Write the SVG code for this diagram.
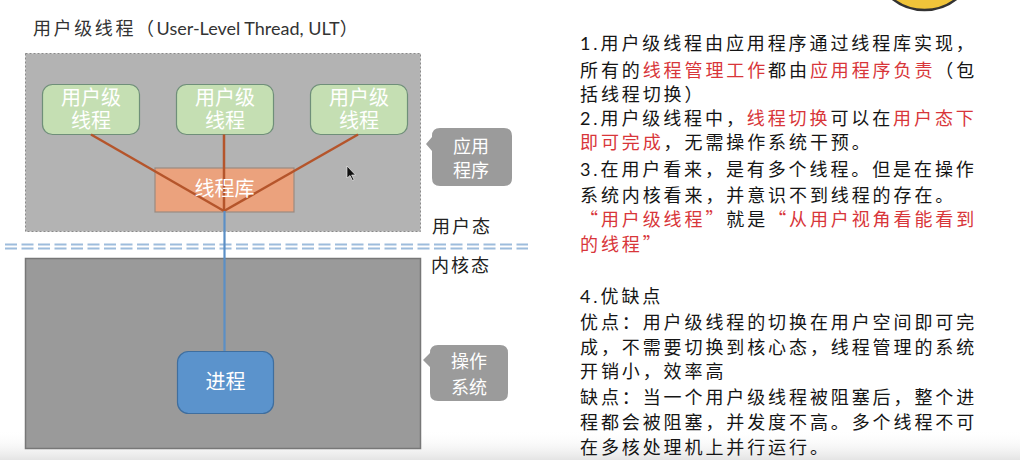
<svg xmlns="http://www.w3.org/2000/svg" width="1020" height="460" viewBox="0 0 1020 460">
<style>
.cjk{font-family:Lato,"Noto Sans CJK SC",sans-serif}
.q{font-family:"Noto Sans CJK SC",sans-serif}
.title{font-size:18px;fill:#333}
.node-t{font-size:20px;fill:#ffffff;text-anchor:middle}
.callout-t{font-size:18px;fill:#ffffff;text-anchor:middle}
.lbl{font-size:18px;fill:#222;letter-spacing:2px}
.body{font-size:18px;fill:#151515;letter-spacing:2.9px}
.red{fill:#d8363a}
.ult{fill:#c5dfb3;stroke:#6f8f79;stroke-width:1.2}
.orange{stroke:#b5552b;stroke-width:2.5;fill:none}
.blue{stroke:#5b8fc6;stroke-width:2.2;fill:none}
.dash{stroke:#9dbcdc;stroke-width:2;stroke-dasharray:12 4.5;fill:none}
.callout{fill:#9b9b9b}
</style>
<defs>
<linearGradient id="fade" x1="0" y1="0" x2="0" y2="1">
<stop offset="0" stop-color="#ffffff" stop-opacity="0"/>
<stop offset="1" stop-color="#e4e4e4" stop-opacity="1"/>
</linearGradient>
</defs>
<rect x="0" y="0" width="1020" height="460" fill="#ffffff"/>
<ellipse cx="924.5" cy="-41.5" rx="51.5" ry="51.5" fill="#f0c43a" stroke="#333" stroke-width="2.5"/>
<rect x="0" y="430" width="1020" height="30" fill="url(#fade)"/>

<text class="cjk title" x="33" y="35"><tspan letter-spacing="2.6">用户级线程（</tspan><tspan>User-Level Thread, ULT</tspan><tspan>）</tspan></text>

<g id="app-space">
<rect x="25.5" y="53.5" width="395" height="178" fill="#b3b3b3" stroke="#8a8a8a" stroke-width="1" stroke-dasharray="2 2"/>
</g>
<g id="kernel-space">
<rect x="25.5" y="258.5" width="395" height="190" fill="#9a9a9a" stroke="#777" stroke-width="1.5"/>
</g>

<g id="boundary">
<line class="dash" x1="5" y1="244.5" x2="528" y2="244.5"/>
<line class="dash" x1="5" y1="248.5" x2="528" y2="248.5"/>
</g>

<g id="ult1">
<rect class="ult" x="42.5" y="84.5" width="97" height="50" rx="10"/>
<text class="cjk node-t" x="91" y="105">用户级</text>
<text class="cjk node-t" x="91" y="128">线程</text>
</g>
<g id="ult2">
<rect class="ult" x="176.5" y="84.5" width="97" height="50" rx="10"/>
<text class="cjk node-t" x="225" y="105">用户级</text>
<text class="cjk node-t" x="225" y="128">线程</text>
</g>
<g id="ult3">
<rect class="ult" x="310.5" y="84.5" width="97" height="50" rx="10"/>
<text class="cjk node-t" x="359" y="105">用户级</text>
<text class="cjk node-t" x="359" y="128">线程</text>
</g>

<g id="lib">
<rect x="155" y="168" width="139" height="44" fill="#eba27d" stroke="#9a8a80" stroke-width="1.2"/>
</g>

<g id="connectors">
<line class="orange" x1="91" y1="134.5" x2="224" y2="211"/>
<line class="orange" x1="224" y1="134.5" x2="224" y2="211"/>
<line class="orange" x1="358" y1="134.5" x2="224" y2="211"/>
<line class="blue" x1="224.5" y1="211" x2="224.5" y2="351"/>
</g>

<g id="lib-label">
<text class="cjk node-t" x="224.5" y="196">线程库</text>
</g>

<g id="process">
<rect x="177.5" y="351.5" width="96" height="62" rx="11" fill="#5b93cc" stroke="#3f6e9e" stroke-width="1.2"/>
<text class="cjk node-t" x="225.5" y="389">进程</text>
</g>

<g id="cursor">
<path d="M347 166 L347 178 L350 175.5 L352.5 180.5 L354 179.8 L351.6 175 L355.5 175 Z" fill="#111" stroke="#fff" stroke-width="0.6"/>
</g>

<g id="callout-app">
<path class="callout" d="M440 128 H504 Q512 128 512 136 V178 Q512 186 504 186 H440 Q432 186 432 178 V151 L426 144 L432 137 V136 Q432 128 440 128 Z"/>
<text class="cjk callout-t" x="471" y="153">应用</text>
<text class="cjk callout-t" x="471" y="177">程序</text>
</g>
<g id="callout-os">
<path class="callout" d="M438 345 H500 Q508 345 508 353 V393 Q508 401 500 401 H438 Q430 401 430 393 V367 L423 360 L430 353 Q430 345 438 345 Z"/>
<text class="cjk callout-t" x="469" y="368">操作</text>
<text class="cjk callout-t" x="469" y="394">系统</text>
</g>

<g id="mode-labels">
<text class="cjk lbl" x="432" y="233">用户态</text>
<text class="cjk lbl" x="431" y="272">内核态</text>
</g>

<g id="notes">
<text class="cjk body" x="580" y="50">1.用户级线程由应用程序通过线程库实现，</text>
<text class="cjk body" x="580" y="77">所有的<tspan class="red">线程管理工作</tspan>都由<tspan class="red">应用程序负责</tspan>（包</text>
<text class="cjk body" x="580" y="101">括线程切换）</text>
<text class="cjk body" x="580" y="125">2.用户级线程中，<tspan class="red">线程切换</tspan>可以在<tspan class="red">用户态下</tspan></text>
<text class="cjk body" x="580" y="149"><tspan class="red">即可完成</tspan>，无需操作系统干预。</text>
<text class="cjk body" x="580" y="176">3.在用户看来，是有多个线程。但是在操作</text>
<text class="cjk body" x="580" y="202">系统内核看来，并意识不到线程的存在。</text>
<text class="cjk body" x="580" y="226"><tspan class="red q">“用户级线程”</tspan>就是<tspan class="red q">“从用户视角看能看到</tspan></text>
<text class="cjk body red" x="580" y="251">的线程<tspan class="q">”</tspan></text>
<text class="cjk body" x="580" y="303">4.优缺点</text>
<text class="cjk body" x="580" y="329">优点：用户级线程的切换在用户空间即可完</text>
<text class="cjk body" x="580" y="354">成，不需要切换到核心态，线程管理的系统</text>
<text class="cjk body" x="580" y="378">开销小，效率高</text>
<text class="cjk body" x="580" y="404">缺点：当一个用户级线程被阻塞后，整个进</text>
<text class="cjk body" x="580" y="429">程都会被阻塞，并发度不高。多个线程不可</text>
<text class="cjk body" x="580" y="454">在多核处理机上并行运行。</text>
</g>
</svg>
